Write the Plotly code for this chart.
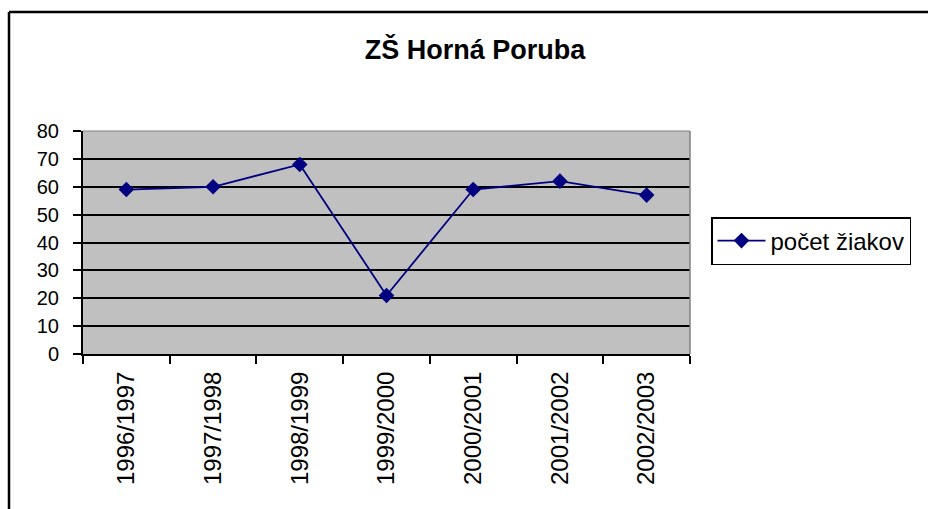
import plotly.graph_objects as go

categories = ["1996/1997", "1997/1998", "1998/1999", "1999/2000", "2000/2001", "2001/2002", "2002/2003"]
values = [59, 60, 68, 21, 59, 62, 57]
series_name = "počet žiakov"
title_text = "ZŠ Horná Poruba"

W, H = 928, 509
L, R, T, B = 83, 928 - 690, 131, 509 - 354
pw, ph = W - L - R, H - T - B

def px(x):
    return (x - L) / pw

def py(y):
    return (H - B - y) / ph

font = "Liberation Sans, Arial, sans-serif"

fig = go.Figure()
fig.add_trace(go.Scatter(
    x=categories, y=values, name=series_name, mode="lines+markers",
    line=dict(color="#000080", width=1.8),
    marker=dict(symbol="diamond", size=12, color="#000080"),
))

fig.update_layout(
    width=W, height=H,
    margin=dict(l=L, r=R, t=T, b=B, pad=0),
    paper_bgcolor="white", plot_bgcolor="#C0C0C0",
    title=dict(text="<b>" + title_text + "</b>", x=475 / W, xanchor="center",
               y=1 - 50 / H, yanchor="middle",
               font=dict(family=font, size=27, color="black")),
    font=dict(family=font, size=20, color="black"),
    showlegend=True,
    legend=dict(x=px(711), xanchor="left", y=py(241), yanchor="middle",
                bordercolor="black", borderwidth=1.5, bgcolor="white",
                font=dict(family=font, size=24, color="black"),
                itemwidth=48, tracegroupgap=0),
    xaxis=dict(type="category", range=[-0.5, 6.5], showgrid=False,
               showline=True, linecolor="black", linewidth=2,
               ticks="outside", tickson="boundaries", ticklen=8, tickwidth=1.5, tickcolor="black",
               tickangle=-90, ticklabelstandoff=6,
               tickfont=dict(family=font, size=24, color="black")),
    yaxis=dict(range=[0, 80], dtick=10, showgrid=True, gridcolor="black", gridwidth=1.5,
               showline=True, linecolor="black", linewidth=2, zeroline=False,
               ticks="outside", ticklen=8, tickwidth=1.5, tickcolor="black",
               ticklabelstandoff=10,
               tickfont=dict(family=font, size=20, color="black")),
    shapes=[
        dict(type="line", xref="paper", yref="paper", x0=1, x1=1, y0=0, y1=1,
             line=dict(color="#808080", width=1.5)),
        dict(type="line", xref="paper", yref="paper", x0=0, x1=1, y0=1, y1=1,
             line=dict(color="#808080", width=1)),
        dict(type="line", xref="paper", yref="paper", x0=px(9), x1=px(940), y0=py(12), y1=py(12),
             line=dict(color="black", width=2.5)),
        dict(type="line", xref="paper", yref="paper", x0=px(9), x1=px(9), y0=py(12), y1=py(520),
             line=dict(color="black", width=2.5)),
    ],
)

fig.write_html("out.html", config={"displayModeBar": False},
               post_script="document.body.style.margin='0px';document.body.style.overflow='hidden';")
